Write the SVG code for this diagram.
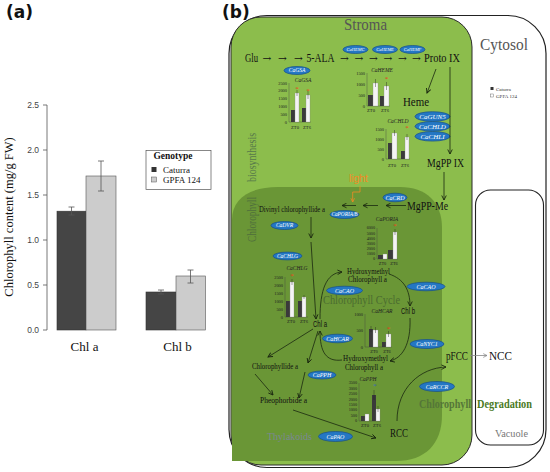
<svg xmlns="http://www.w3.org/2000/svg" width="550" height="472" viewBox="0 0 550 472">
<defs>
<style>
.sf{font-family:"Liberation Serif","Times New Roman",serif}
.ss{font-family:"Liberation Sans",Arial,sans-serif}
.t{font-family:"Liberation Serif","Times New Roman",serif;fill:#111}
.arw{font-family:"DejaVu Serif","DejaVu Sans",serif;fill:#111;font-size:10.5px}
.enz ellipse{fill:#2477c4;stroke:#174f8a;stroke-width:.7}
.enz text{font-family:"Liberation Serif","Times New Roman",serif;font-style:italic;fill:#fff;text-anchor:middle}
.ch text{font-family:"Liberation Serif","Times New Roman",serif;fill:#222}
.ch .yl{text-anchor:end;font-size:4.4px}
.ch .ti{font-style:italic;font-size:5.5px;text-anchor:middle}
.ch .zt{font-size:4.6px;text-anchor:middle}
.ch .ax{stroke:#444;stroke-width:.4;fill:none}
.ch .d{fill:#3a3a3a}
.ch .w{fill:#f4f4f4;stroke:#888;stroke-width:.3}
.ch .e{stroke:#222;stroke-width:.4}
.ch .as{fill:#e8401c;font-size:7px;text-anchor:middle}
.cn path{fill:none;stroke:#1b2810;stroke-width:.8}
.bar-d{fill:#454545;stroke:#333;stroke-width:.6}
.bar-l{fill:#cccccc;stroke:#555;stroke-width:.6}
.err{stroke:#555;stroke-width:.8;fill:none}
</style>
<marker id="ah" viewBox="0 0 8 8" refX="7" refY="4" markerWidth="6" markerHeight="6" markerUnits="userSpaceOnUse" orient="auto"><path d="M1,1 L7,4 L1,7" fill="none" stroke="#1b2810" stroke-width="1.2"/></marker>
<marker id="ahO" viewBox="0 0 8 8" refX="7" refY="4" markerWidth="5" markerHeight="5" markerUnits="userSpaceOnUse" orient="auto"><path d="M1,1 L7,4 L1,7" fill="none" stroke="#f08a24" stroke-width="1.2"/></marker>
<marker id="ahG" viewBox="0 0 8 8" refX="7" refY="4" markerWidth="5" markerHeight="5" markerUnits="userSpaceOnUse" orient="auto"><path d="M1,1 L7,4 L1,7" fill="none" stroke="#888" stroke-width="1.2"/></marker>
</defs>
<rect x="0" y="0" width="550" height="472" fill="#fff"/>

<!-- Panel (a) -->
<g id="panel-a">
<text x="6" y="18" font-family="DejaVu Sans,sans-serif" font-weight="bold" font-size="17" fill="#111">(a)</text>
<line x1="47" y1="105" x2="47" y2="330" stroke="#555" stroke-width=".8"/>
<g stroke="#555" stroke-width=".8">
<line x1="43" y1="105" x2="47" y2="105"/><line x1="43" y1="150" x2="47" y2="150"/><line x1="43" y1="195" x2="47" y2="195"/><line x1="43" y1="240" x2="47" y2="240"/><line x1="43" y1="285" x2="47" y2="285"/><line x1="43" y1="330" x2="47" y2="330"/>
</g>
<g class="ss" font-size="8.5" fill="#444" text-anchor="end">
<text x="39" y="108">2.5</text><text x="39" y="153">2.0</text><text x="39" y="198">1.5</text><text x="39" y="243">1.0</text><text x="39" y="288">0.5</text><text x="39" y="333">0.0</text>
</g>
<text class="sf" transform="translate(12.5,217) rotate(-90)" text-anchor="middle" font-size="12.5" fill="#111">Chlorophyll content (mg/g FW)</text>
<rect class="bar-d" x="57" y="211.2" width="29" height="118.8"/>
<rect class="bar-l" x="86" y="176" width="30" height="154"/>
<rect class="bar-d" x="146" y="292" width="30" height="38"/>
<rect class="bar-l" x="176" y="276" width="29.5" height="54"/>
<path class="err" d="M71.5,207 V215 M68.5,207 H74.5 M68.5,215 H74.5 M101,161 V191 M98,161 H104 M98,191 H104 M161,290 V294 M158,290 H164 M158,294 H164 M190.5,270 V283 M187.5,270 H193.5 M187.5,283 H193.5"/>
<text class="sf" x="84.5" y="351" text-anchor="middle" font-size="13" fill="#111">Chl a</text>
<text class="sf" x="177.5" y="351" text-anchor="middle" font-size="13" fill="#111">Chl b</text>
<g id="legend-a">
<rect x="146" y="150.5" width="65" height="39" fill="#fff" stroke="#555" stroke-width=".7"/>
<text class="sf" x="173" y="159" text-anchor="middle" font-size="9.5" font-weight="bold" fill="#111">Genotype</text>
<rect x="151.5" y="167" width="5" height="5" fill="#333"/>
<rect x="151.5" y="177" width="5" height="5" fill="#ccc" stroke="#555" stroke-width=".5"/>
<text class="sf" x="163" y="172.5" font-size="9" fill="#111">Caturra</text>
<text class="sf" x="163" y="182.5" font-size="9" fill="#111">GPFA 124</text>
</g>
</g>

<!-- Panel (b) -->
<text x="222" y="18" font-family="DejaVu Sans,sans-serif" font-weight="bold" font-size="17" fill="#111">(b)</text>
<g id="compartments">
<rect id="cytosol" x="229" y="15.5" width="317" height="452" rx="38" fill="#fff" stroke="#222" stroke-width="1.2"/>
<rect id="stroma" x="231" y="17" width="241" height="448" rx="30" fill="#8cbd4c" stroke="#2a2a2a" stroke-width="1"/>
<path id="thylakoid" d="M232,220 C232,198 250,187 278,187 L400,187 C426,187 442,202 442,228 L442,415 C442,444 425,461 396,461 L232,461 Z" fill="#6a9636"/>
<rect id="vacuole" x="475.5" y="190" width="68" height="255" rx="15" fill="#fff" stroke="#222" stroke-width="1.1"/>
</g>

<g id="labels">
<text class="sf" x="344" y="30" font-size="17" fill="#555" textLength="43" lengthAdjust="spacingAndGlyphs">Stroma</text>
<text class="sf" x="480" y="50" font-size="17" fill="#555" textLength="48" lengthAdjust="spacingAndGlyphs">Cytosol</text>
<text class="sf" transform="translate(256,242) rotate(-90)" font-size="11.5" fill="#4f6e3c" textLength="45" lengthAdjust="spacingAndGlyphs">Chlorophyll</text>
<text class="sf" transform="translate(256,182) rotate(-90)" font-size="11.5" fill="#56784a" textLength="49" lengthAdjust="spacingAndGlyphs">biosynthesis</text>
<text class="sf" x="323" y="304" font-size="12.5" fill="#4a6c30" textLength="77" lengthAdjust="spacingAndGlyphs">Chlorophyll Cycle</text>
<text class="sf" x="419" y="408" font-size="12" font-weight="bold" fill="#557638" textLength="52" lengthAdjust="spacingAndGlyphs">Chlorophyll</text>
<text class="sf" x="477" y="408" font-size="12" font-weight="bold" fill="#4a7a1f" textLength="55" lengthAdjust="spacingAndGlyphs">Degradation</text>
<text class="sf" x="267" y="440" font-size="11" fill="#7a8794" textLength="45" lengthAdjust="spacingAndGlyphs">Thylakoids</text>
<text class="sf" x="495" y="437" font-size="11" fill="#777" textLength="33" lengthAdjust="spacingAndGlyphs">Vacuole</text>
<text class="ss" x="349" y="182" font-size="10" fill="#f08a24" textLength="19" lengthAdjust="spacingAndGlyphs">light</text>
</g>

<g id="legend-b" class="sf" font-size="5" fill="#333">
<rect x="490.5" y="87" width="3" height="3" fill="#333"/>
<rect x="490.5" y="94" width="3" height="3" fill="#fff" stroke="#555" stroke-width=".4"/>
<text x="496" y="90.5">Caturra</text>
<text x="496" y="97.5">GPFA 124</text>
</g>

<!-- Metabolite nodes -->
<g id="n-glu"><text class="t" x="245" y="62" font-size="12.5" textLength="13" lengthAdjust="spacingAndGlyphs">Glu</text></g>
<g id="n-arrows-row" class="arw">
<text x="262.5" y="62">→</text>
<text x="278" y="62">→</text>
<text x="294" y="62">→</text>
<text x="340" y="62">→</text>
<text x="354.5" y="62">→</text>
<text x="369" y="62">→</text>
<text x="383.5" y="62">→</text>
<text x="398" y="62">→</text>
<text x="412" y="62">→</text>
</g>
<g id="n-5ala"><text class="t" x="306.5" y="62" font-size="12.5" textLength="28" lengthAdjust="spacingAndGlyphs">5-ALA</text></g>
<g id="n-protoix"><text class="t" x="424" y="62" font-size="12.5" textLength="36" lengthAdjust="spacingAndGlyphs">Proto IX</text></g>
<g id="n-heme"><text class="t" x="403" y="106" font-size="12.5" textLength="26" lengthAdjust="spacingAndGlyphs">Heme</text></g>
<g id="n-mgppix"><text class="t" x="427" y="167" font-size="12.5" textLength="37" lengthAdjust="spacingAndGlyphs">MgPP IX</text></g>
<g id="n-mgppme"><text class="t" x="407" y="209.5" font-size="12.5" textLength="41" lengthAdjust="spacingAndGlyphs">MgPP-Me</text></g>
<g id="n-divinyl"><text class="t" x="259" y="212" font-size="8.5" textLength="66" lengthAdjust="spacingAndGlyphs">Divinyl chlorophyllide a</text></g>
<g id="n-chla"><text class="ss" x="313" y="327" font-size="8.5" fill="#111" textLength="14" lengthAdjust="spacingAndGlyphs">Chl a</text></g>
<g id="n-chlb"><text class="ss" x="401" y="314" font-size="8.5" fill="#111" textLength="14" lengthAdjust="spacingAndGlyphs">Chl b</text></g>
<g id="n-hmchl-top" class="t" font-size="8.5">
<text x="347" y="273.5" textLength="43" lengthAdjust="spacingAndGlyphs">Hydroxymethyl</text>
<text x="348" y="282" textLength="39" lengthAdjust="spacingAndGlyphs">Chlorophyll a</text>
</g>
<g id="n-hmchl-bot" class="t" font-size="8.5">
<text x="343" y="361" textLength="45" lengthAdjust="spacingAndGlyphs">Hydroxymethyl</text>
<text x="345" y="369.5" textLength="38" lengthAdjust="spacingAndGlyphs">Chlorophyll a</text>
</g>
<g id="n-chlide"><text class="t" x="252" y="368.5" font-size="8.5" textLength="46" lengthAdjust="spacingAndGlyphs">Chlorophyllide a</text></g>
<g id="n-pheide"><text class="t" x="260" y="403" font-size="8.5" textLength="47" lengthAdjust="spacingAndGlyphs">Pheophorbide a</text></g>
<g id="n-rcc"><text class="t" x="390" y="437" font-size="12.5" textLength="18" lengthAdjust="spacingAndGlyphs">RCC</text></g>
<g id="n-pfcc"><text class="t" x="446" y="360" font-size="12.5" textLength="22" lengthAdjust="spacingAndGlyphs">pFCC</text></g>
<g id="n-ncc"><text class="t" x="489" y="360" font-size="12.5" textLength="23" lengthAdjust="spacingAndGlyphs">NCC</text></g>

<!-- Enzymes -->
<g id="e-hemc" class="enz"><ellipse cx="355.5" cy="49.5" rx="12.5" ry="4"/><text x="355.5" y="51.1" font-size="4.5">CaHEMC</text></g>
<g id="e-heme" class="enz"><ellipse cx="385" cy="49.5" rx="12.5" ry="4"/><text x="385" y="51.1" font-size="4.5">CaHEME</text></g>
<g id="e-hemf" class="enz"><ellipse cx="412.5" cy="49.5" rx="12.5" ry="4"/><text x="412.5" y="51.1" font-size="4.5">CaHEMF</text></g>
<g id="e-gsa" class="enz"><ellipse cx="297" cy="70.5" rx="13" ry="4"/><text x="297" y="72.4" font-size="5.5">CaGSA</text></g>
<g id="e-gun5" class="enz"><ellipse cx="432.5" cy="116.5" rx="17.5" ry="4.8"/><text x="432.5" y="119" font-size="7">CaGUN5</text></g>
<g id="e-chld" class="enz"><ellipse cx="432.5" cy="126.3" rx="17.5" ry="4.8"/><text x="432.5" y="128.8" font-size="7">CaCHLD</text></g>
<g id="e-chli" class="enz"><ellipse cx="432.5" cy="136.3" rx="17.5" ry="4.8"/><text x="432.5" y="138.8" font-size="7">CaCHLI</text></g>
<g id="e-crd" class="enz"><ellipse cx="395" cy="197.5" rx="12" ry="4.3"/><text x="395" y="199.6" font-size="6">CaCRD</text></g>
<g id="e-por" class="enz"><ellipse cx="344.5" cy="214.5" rx="14.5" ry="4"/><text x="344.5" y="216.4" font-size="5.3">CaPORIA/B</text></g>
<g id="e-dvr" class="enz"><ellipse cx="284.5" cy="225.5" rx="13.5" ry="4"/><text x="284.5" y="227.4" font-size="5.5">CaDVR</text></g>
<g id="e-chlg" class="enz"><ellipse cx="287.5" cy="256" rx="14.5" ry="3.9"/><text x="287.5" y="258" font-size="5.5">CaCHLG</text></g>
<g id="e-cao1" class="enz"><ellipse cx="344.5" cy="290.5" rx="18" ry="4.3"/><text x="344.5" y="292.6" font-size="6">CaCAO</text></g>
<g id="e-cao2" class="enz"><ellipse cx="426" cy="286.5" rx="19" ry="4.3"/><text x="426" y="288.6" font-size="6">CaCAO</text></g>
<g id="e-hcar" class="enz"><ellipse cx="337.5" cy="338.5" rx="15" ry="4.3"/><text x="337.5" y="340.6" font-size="6">CaHCAR</text></g>
<g id="e-nyc1" class="enz"><ellipse cx="427" cy="344" rx="17" ry="4.5"/><text x="427" y="346.1" font-size="6">CaNYC1</text></g>
<g id="e-pph" class="enz"><ellipse cx="322" cy="375" rx="14" ry="4"/><text x="322" y="377.1" font-size="6">CaPPH</text></g>
<g id="e-rccr" class="enz"><ellipse cx="437" cy="386.5" rx="17.5" ry="5"/><text x="437" y="388.6" font-size="6">CaRCCR</text></g>
<g id="e-pao" class="enz"><ellipse cx="335.5" cy="436.5" rx="17" ry="5"/><text x="335.5" y="438.6" font-size="6">CaPAO</text></g>

<!-- Charts -->
<g id="chart-gsa" class="ch">
<text class="ti" x="303" y="82">CaGSA</text>
<path class="ax" d="M289,83 V122 H311"/>
<text class="yl" x="287" y="84.5">2500</text><text class="yl" x="287" y="92.3">2000</text><text class="yl" x="287" y="100.1">1500</text><text class="yl" x="287" y="107.9">1000</text><text class="yl" x="287" y="115.7">500</text><text class="yl" x="287" y="123.5">0</text>
<rect class="d" x="291" y="110" width="4" height="12"/><rect class="w" x="295" y="93" width="4" height="29"/>
<rect class="d" x="302" y="108" width="4" height="14"/><rect class="w" x="306" y="95" width="4" height="27"/>
<path class="e" d="M297,90 V96 M308,91 V99"/>
<text class="as" x="297" y="91">*</text><text class="as" x="308" y="93">*</text>
<text class="zt" x="295" y="128.5">ZT0</text><text class="zt" x="307" y="128.5">ZT6</text>
</g>
<g id="chart-heme" class="ch">
<text class="ti" x="382" y="72">CaHEME</text>
<path class="ax" d="M367,73 V106 H390"/>
<text class="yl" x="365" y="74.5">1500</text><text class="yl" x="365" y="85.5">1000</text><text class="yl" x="365" y="96.5">500</text><text class="yl" x="365" y="107.5">0</text>
<rect class="d" x="368" y="95" width="5" height="11"/><rect class="w" x="373" y="83" width="5" height="23"/>
<rect class="d" x="380" y="96" width="4" height="10"/><rect class="w" x="384" y="86" width="5" height="20"/>
<path class="e" d="M375.5,79 V87 M386.5,82 V90"/>
<text class="as" x="386.5" y="80.5">*</text>
<text class="zt" x="371" y="112">ZT0</text><text class="zt" x="385" y="112">ZT6</text>
</g>
<g id="chart-chld" class="ch">
<text class="ti" x="398" y="123">CaCHLD</text>
<path class="ax" d="M386,129 V159 H410"/>
<text class="yl" x="384" y="130.5">1500</text><text class="yl" x="384" y="140.5">1000</text><text class="yl" x="384" y="150.5">500</text><text class="yl" x="384" y="160.5">0</text>
<rect class="d" x="388" y="143" width="4" height="16"/><rect class="w" x="392" y="133" width="5" height="26"/>
<rect class="d" x="401" y="151" width="4" height="8"/><rect class="w" x="405" y="137" width="4" height="22"/>
<path class="e" d="M394.5,130 V136 M407,134 V140"/>
<text class="as" x="407" y="130">*</text>
<text class="zt" x="392" y="167">ZT0</text><text class="zt" x="405" y="167">ZT6</text>
</g>
<g id="chart-poria" class="ch">
<text class="ti" x="387" y="221">CaPORIA</text>
<path class="ax" d="M377,228 V259 H398"/>
<text class="yl" x="375" y="229.3" style="font-size:4.2px">6000</text><text class="yl" x="375" y="234.5" style="font-size:4.2px">5000</text><text class="yl" x="375" y="239.6" style="font-size:4.2px">4000</text><text class="yl" x="375" y="244.8" style="font-size:4.2px">3000</text><text class="yl" x="375" y="250" style="font-size:4.2px">2000</text><text class="yl" x="375" y="255.1" style="font-size:4.2px">1000</text><text class="yl" x="375" y="260.3" style="font-size:4.2px">0</text>
<rect class="d" x="378" y="255" width="5" height="4"/><rect class="w" x="383" y="254" width="4" height="5"/>
<rect class="d" x="388" y="250" width="5" height="9"/><rect class="w" x="393" y="232" width="4" height="27"/>
<path class="e" d="M395,229 V235"/>
<text class="as" x="395" y="227.5">*</text>
<text class="zt" x="382.5" y="265" style="font-size:4.4px">ZT0</text><text class="zt" x="394" y="265" style="font-size:4.4px">ZT6</text>
</g>
<g id="chart-chlg" class="ch">
<text class="ti" x="297" y="270">CaCHLG</text>
<path class="ax" d="M285,277 V317 H308"/>
<text class="yl" x="283" y="278.5">2500</text><text class="yl" x="283" y="286.5">2000</text><text class="yl" x="283" y="294.5">1500</text><text class="yl" x="283" y="302.5">1000</text><text class="yl" x="283" y="310.5">500</text><text class="yl" x="283" y="318.5">0</text>
<rect class="d" x="286" y="301" width="4" height="16"/><rect class="w" x="290" y="282" width="4" height="35"/>
<rect class="d" x="298" y="301" width="4" height="16"/><rect class="w" x="302" y="297" width="4" height="20"/>
<path class="e" d="M292,279 V285 M304,295 V299"/>
<text class="as" x="292" y="278">*</text>
<text class="zt" x="291" y="323">ZT0</text><text class="zt" x="304" y="323">ZT6</text>
</g>
<g id="chart-hcar" class="ch">
<text class="ti" x="382" y="313">CaHCAR</text>
<path class="ax" d="M365,314 V347 H392"/>
<text class="yl" x="363" y="315.5">1000</text><text class="yl" x="363" y="332">500</text><text class="yl" x="363" y="348.5">0</text>
<rect class="d" x="369" y="329" width="4" height="18"/><rect class="w" x="373" y="330" width="5" height="17"/>
<rect class="d" x="382" y="342" width="4" height="5"/><rect class="w" x="386" y="334" width="5" height="13"/>
<path class="e" d="M371,326 V332 M375.5,327 V333 M388.5,331 V337"/>
<text class="as" x="388.5" y="331">*</text>
<text class="zt" x="374" y="352.5" style="font-size:4.4px">ZT0</text><text class="zt" x="387" y="352.5" style="font-size:4.4px">ZT6</text>
</g>
<g id="chart-pph" class="ch">
<text class="ti" x="368" y="380.5">CaPPH</text>
<path class="ax" d="M359,383 V421 H381"/>
<text class="yl" x="357" y="384.3" style="font-size:4.2px">3500</text><text class="yl" x="357" y="389.7" style="font-size:4.2px">3000</text><text class="yl" x="357" y="395.2" style="font-size:4.2px">2500</text><text class="yl" x="357" y="400.6" style="font-size:4.2px">2000</text><text class="yl" x="357" y="406" style="font-size:4.2px">1500</text><text class="yl" x="357" y="411.4" style="font-size:4.2px">1000</text><text class="yl" x="357" y="416.9" style="font-size:4.2px">500</text><text class="yl" x="357" y="422.3" style="font-size:4.2px">0</text>
<rect class="d" x="361" y="416" width="4" height="5"/><rect class="w" x="365" y="414" width="4" height="7"/>
<rect class="d" x="372" y="395" width="4" height="26"/><rect class="w" x="376" y="409" width="4" height="12"/>
<path class="e" d="M374,390 V400 M378,406 V412"/>
<text class="as" x="375" y="388" style="fill:#3a66b8">*</text>
<text class="zt" x="365" y="427">ZT0</text><text class="zt" x="377" y="427">ZT6</text>
</g>

<!-- Connectors -->
<g id="connectors" class="cn">
<path d="M436,69 L427,93" marker-end="url(#ah)"/>
<path d="M450,67 L450,154" marker-end="url(#ah)"/>
<path d="M444,172 L444,200" marker-end="url(#ah)"/>
<path d="M406,205.5 L386,205.5" marker-end="url(#ah)"/>
<path d="M378,205.5 L363,205.5" marker-end="url(#ah)"/>
<path d="M356,205.5 L342,205.5" marker-end="url(#ah)"/>
<path d="M360,186 L360,192 L352.7,192 L352.7,202" style="stroke:#f08a24" marker-end="url(#ahO)"/>
<path d="M311,217 L311,238" marker-end="url(#ah)"/>
<path d="M311,242 L316,319" marker-end="url(#ah)"/>
<path d="M320,319 C320,290 326,273 342,272" marker-end="url(#ah)"/>
<path d="M389,274 C404,279 410,290 410,306" marker-end="url(#ah)"/>
<path d="M410,318 C411,345 402,358 390,361" marker-end="url(#ah)"/>
<path d="M342,360 C326,362 320,352 320,331" marker-end="url(#ah)"/>
<path d="M313,329 L268,357" marker-end="url(#ah)"/>
<path d="M318,331 L308,363" marker-end="url(#ah)"/>
<path d="M305,372 L299,398" marker-end="url(#ah)"/>
<path d="M255,374 L273,395" marker-end="url(#ah)"/>
<path d="M293,410 L376,438" marker-end="url(#ah)"/>
<path d="M397,421 C397,388 420,368 446,367" marker-end="url(#ah)"/>
<path d="M470,355.5 L487,355.5" style="stroke:#888" marker-end="url(#ahG)"/>
</g>
</svg>
